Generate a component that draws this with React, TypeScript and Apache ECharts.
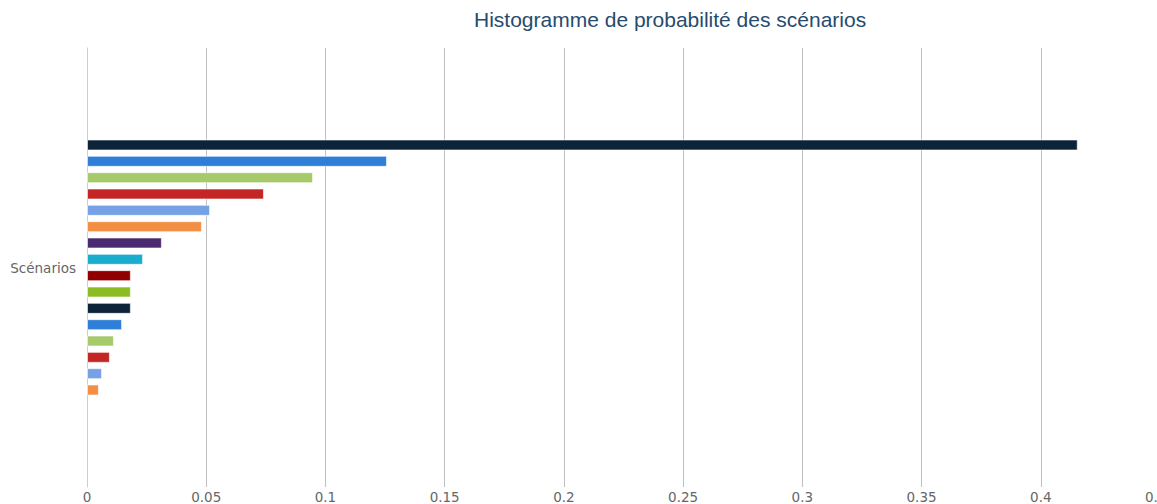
import React, { useEffect, useRef } from "react";
import * as echarts from "echarts";

const categories = ["Scénarios"];
const titleText = "Histogramme de probabilité des scénarios";
// top to bottom
const values = [
  0.4155, 0.1258, 0.0948, 0.0742, 0.0516, 0.0482, 0.0314, 0.0235,
  0.0184, 0.0184, 0.0184, 0.0147, 0.0113, 0.0096, 0.0063, 0.005,
];
const colors = [
  "#0d233a", "#2f7ed8", "#a6c96a", "#c42525", "#77a1e5", "#f28f43", "#492970", "#1aadce",
  "#910000", "#8bbc21", "#0d233a", "#2f7ed8", "#a6c96a", "#c42525", "#77a1e5", "#f28f43",
];
const seriesNames = values.map((_, i) => `Scénario ${i + 1}`);

export default function App() {
  const ref = useRef<HTMLDivElement>(null);
  useEffect(() => {
    if (!ref.current) return;
    const chart = echarts.init(ref.current, null, { renderer: "svg" });
    chart.setOption({
      animation: false,
      backgroundColor: "#ffffff",
      title: {
        text: titleText,
        left: 474,
        top: 9,
        padding: 0,
        textStyle: {
          fontFamily: "Liberation Sans",
          fontSize: 21,
          fontWeight: "normal",
          color: "#274b6d",
        },
      },
      grid: {
        left: 87,
        top: 48,
        width: 1073,
        height: 439,
        containLabel: false,
        outerBoundsMode: "none",
      },
      xAxis: {
        type: "value",
        min: 0,
        max: 0.45,
        interval: 0.05,
        axisLine: { show: false },
        axisTick: { show: false },
        splitLine: { show: true, lineStyle: { color: "#C0C0C0", width: 1 } },
        axisLabel: {
          color: "#666666",
          fontFamily: "DejaVu Sans",
          fontSize: 13.5,
          margin: 3,
          showMaxLabel: true,
        },
      },
      yAxis: {
        type: "category",
        data: categories,
        inverse: true,
        axisLine: { show: true, lineStyle: { color: "#C0D0E0", width: 1 } },
        axisTick: { show: false },
        axisLabel: {
          color: "#666666",
          fontFamily: "DejaVu Sans",
          fontSize: 13.5,
          margin: 11,
        },
      },
      series: values.map((v, i) => ({
        type: "bar",
        name: seriesNames[i],
        data: [v],
        barWidth: 11,
        barGap: "48.5%",
        itemStyle: { color: colors[i], borderColor: "rgba(255,255,255,0.6)", borderWidth: 1 },
      })),
    });
    return () => chart.dispose();
  }, []);
  return (
    <div
      ref={ref}
      style={{ position: "fixed", left: 0, top: 0, width: 1157, height: 504 }}
    />
  );
}
